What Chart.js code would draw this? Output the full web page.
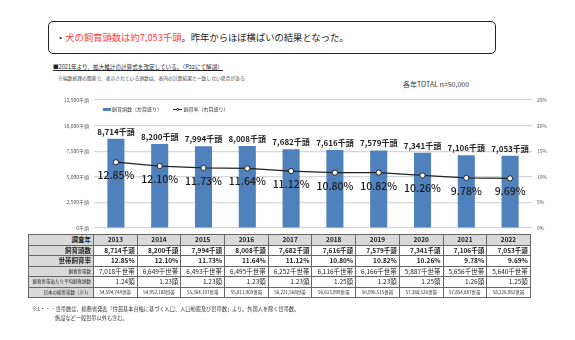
<!DOCTYPE html>
<html><head><meta charset="utf-8">
<script src="https://cdn.jsdelivr.net/npm/chart.js@4/dist/chart.umd.min.js"></script>
<style>
html,body{margin:0;padding:0;background:#fff;}
body{width:575px;height:340px;position:relative;overflow:hidden;font-family:"Noto Sans CJK JP","Noto Sans",sans-serif;color:#222;}
.abs{position:absolute;white-space:nowrap;}
#box{left:48px;top:21px;width:446px;height:31px;border:1.5px solid #222;border-radius:5px;}
#box span.t{position:absolute;left:7px;top:8px;font-size:9.3px;line-height:14px;}
.red{color:#ff3b3b;}
#note1{left:53px;top:63px;font-size:5.6px;text-decoration:underline;}
#note2{left:58px;top:74px;font-size:4.8px;color:#444;}
#total{left:403px;top:79px;font-size:7px;color:#333;}
#chartwrap{position:absolute;left:0;top:88px;width:575px;height:148px;}
#legend{left:103px;top:105px;font-size:5px;color:#333;}
#legend i{display:inline-block;vertical-align:middle;}
table{position:absolute;left:28px;top:234px;border-collapse:collapse;table-layout:fixed;width:502px;border:1.5px solid #333;}
td{border:1px solid #666;padding:0 2px;height:9.5px;line-height:9px;white-space:nowrap;overflow:hidden;text-align:right;font-size:6.5px;color:#222;}
tr.hd td{background:#d9d9d9;font-weight:bold;text-align:center;font-size:6.5px;}
tr.b td{font-weight:bold;}
td.sm{font-size:4.5px;}
td.lbl{background:#d9d9d9;}
td.yc{border-left:1.5px solid #333;}
#foot1{left:32px;top:305px;font-size:5.2px;color:#333;}
#foot2{left:55px;top:314px;font-size:5.2px;color:#333;}
</style></head>
<body>
<div id="box" class="abs"><span class="t">・<span class="red">犬の飼育頭数は約7,053千頭</span>。昨年からほぼ横ばいの結果となった。</span></div>
<div id="note1" class="abs">■2021年より、拡大推計の計算式を改定している。（P22にて解説）</div>
<div id="note2" class="abs">※端数処理の関係で、表示されている頭数は、表内の計算結果と一致しない場合がある</div>
<div id="total" class="abs">各年TOTAL n=50,000</div>
<div id="chartwrap"><canvas id="c"></canvas></div>
<div id="legend" class="abs"><i style="width:8px;height:2.5px;background:#4f81bd;"></i> 飼育頭数（左目盛り）&nbsp;&nbsp;&nbsp;&nbsp;&nbsp;&nbsp;&nbsp;&nbsp;&nbsp;&nbsp;<i style="width:9px;height:1px;background:#222;position:relative;"><b style="position:absolute;left:2.5px;top:-1.5px;width:3px;height:3px;border:0.8px solid #222;border-radius:50%;background:#fff;box-sizing:border-box;"></b></i> 飼育率（右目盛り）</div>
<table id="tbl"></table>
<div id="foot1" class="abs">※1・・・世帯数は、総務省発表「住民基本台帳に基づく人口、人口動態及び世帯数」より。外国人を除く世帯数。</div>
<div id="foot2" class="abs">施設など一般世帯以外も含む。</div>
<script>
const years = ['2013','2014','2015','2016','2017','2018','2019','2020','2021','2022'];
const dogCount = [8714, 8200, 7994, 8008, 7682, 7616, 7579, 7341, 7106, 7053];
const ownershipRate = [12.85, 12.10, 11.73, 11.64, 11.12, 10.80, 10.82, 10.26, 9.78, 9.69];
const ownerHouseholds = [7018, 6649, 6493, 6495, 6252, 6116, 6166, 5887, 5656, 5640];
const avgPerHousehold = [1.24, 1.23, 1.23, 1.23, 1.23, 1.25, 1.23, 1.25, 1.26, 1.25];
const totalHouseholds = [54594744, 54952108, 55364197, 55811969, 56221568, 56613999, 56996515, 57380526, 57854887, 58226982];
const leftTicks = [0, 2500, 5000, 7500, 10000, 12500];
const rightTicks = [0, 5, 10, 15, 20, 25];

const fmt = v => v.toLocaleString('en-US');

const tbl = document.getElementById('tbl');
let html = '<colgroup><col style="width:65px">' + years.map(()=>'<col style="width:43.7px">').join('') + '</colgroup>';
html += '<tr class="hd"><td class="lbl" style="text-align:right">調査年</td>' + years.map(y=>'<td class="yc">'+y+'</td>').join('') + '</tr>';
html += '<tr class="b"><td class="lbl">飼育頭数</td>' + dogCount.map(v=>'<td class="yc">'+fmt(v)+'千頭</td>').join('') + '</tr>';
html += '<tr class="b"><td class="lbl">世帯飼育率</td>' + ownershipRate.map(v=>'<td class="yc">'+v.toFixed(2)+'%</td>').join('') + '</tr>';
html += '<tr><td class="lbl sm">飼育世帯数</td>' + ownerHouseholds.map(v=>'<td class="yc">'+fmt(v)+'千世帯</td>').join('') + '</tr>';
html += '<tr><td class="lbl sm">飼育世帯あたり平均飼育頭数</td>' + avgPerHousehold.map(v=>'<td class="yc">'+v.toFixed(2)+'頭</td>').join('') + '</tr>';
html += '<tr><td class="lbl sm">日本の総世帯数（※1）</td>' + totalHouseholds.map(v=>'<td class="yc sm" style="text-align:center;padding:0">'+fmt(v)+'世帯</td>').join('') + '</tr>';
tbl.innerHTML = html;

const labelPlugin = {
  id: 'valueLabels',
  afterDatasetsDraw(chart) {
    const ctx = chart.ctx;
    ctx.save();
    const m0 = chart.getDatasetMeta(0);
    ctx.font = 'bold 8px "Noto Sans CJK JP"';
    ctx.fillStyle = '#222';
    ctx.textAlign = 'center';
    ctx.textBaseline = 'bottom';
    m0.data.forEach((el, i) => {
      ctx.fillText(fmt(dogCount[i]) + '千頭', el.x, el.y - 3);
    });
    const m1 = chart.getDatasetMeta(1);
    ctx.font = '500 10.5px "Noto Sans CJK JP"';
    ctx.fillStyle = '#1a1a1a';
    ctx.textBaseline = 'middle';
    m1.data.forEach((el, i) => {
      ctx.fillText(ownershipRate[i].toFixed(2) + '%', el.x, el.y + 13);
    });
    ctx.restore();
  }
};

Chart.defaults.font.family = '"Noto Sans CJK JP", "Noto Sans", sans-serif';
new Chart(document.getElementById('c'), {
  data: {
    labels: years,
    datasets: [
      { type: 'bar', label: '飼育頭数（左目盛り）', data: dogCount, yAxisID: 'y',
        backgroundColor: '#4f81bd', categoryPercentage: 1, barPercentage: 0.39, order: 2 },
      { type: 'line', label: '飼育率（右目盛り）', data: ownershipRate, yAxisID: 'y1',
        borderColor: '#222', borderWidth: 1.3, pointRadius: 2.6, pointBackgroundColor: '#fff',
        pointBorderColor: '#222', pointBorderWidth: 1, tension: 0, order: 1 }
    ]
  },
  options: {
    responsive: true, maintainAspectRatio: false, animation: false,
    layout: { padding: { top: 12, bottom: 1, left: 0, right: 0 } },
    plugins: { legend: { display: false }, tooltip: { enabled: false } },
    scales: {
      x: { display: false },
      y: { position: 'left', min: 0, max: 12500,
        afterFit: s => { s.width = 94; },
        afterBuildTicks: s => { s.ticks = leftTicks.map(v => ({ value: v })); },
        ticks: { padding: 5, font: { size: 5 }, color: '#555', callback: v => fmt(v) + '千頭' },
        grid: { color: '#d6d6d6', lineWidth: 1.2, drawTicks: false }, border: { display: false } },
      y1: { position: 'right', min: 0, max: 25,
        afterFit: s => { s.width = 43; },
        afterBuildTicks: s => { s.ticks = rightTicks.map(v => ({ value: v })); },
        ticks: { padding: 5, font: { size: 5 }, color: '#555', callback: v => v + '%' },
        grid: { display: false, drawTicks: false }, border: { display: false } }
    }
  },
  plugins: [labelPlugin]
});
</script>
</body></html>
